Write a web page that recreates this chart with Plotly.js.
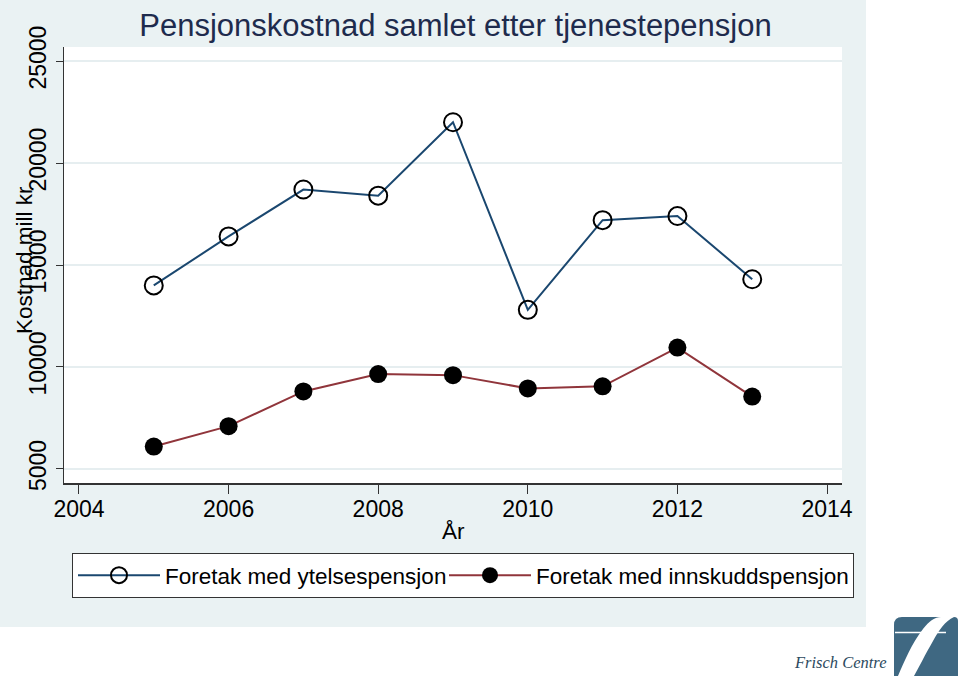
<!DOCTYPE html>
<html><head><meta charset="utf-8">
<script src="https://cdn.plot.ly/plotly-3.0.1.min.js"></script>
<style>html,body{margin:0;padding:0;background:#fff}</style>
</head><body><div id="chart" style="width:960px;height:679px"></div>
<script>
// ---- data ----
const years = [2005, 2006, 2007, 2008, 2009, 2010, 2011, 2012, 2013];
const ytelse = [14000, 16400, 18700, 18400, 22000, 12800, 17200, 17400, 14300];
const innskudd = [6100, 7100, 8800, 9650, 9600, 8950, 9050, 10950, 8550];
const xTicks = [2004, 2006, 2008, 2010, 2012, 2014];
const yTicks = [5000, 10000, 15000, 20000, 25000];
const seriesNames = ['Foretak med ytelsespensjon', 'Foretak med innskuddspensjon'];
const chartTitle = 'Pensjonskostnad samlet etter tjenestepensjon';
const xTitle = 'År';
const yTitle = 'Kostnad mill kr';
const logoText = 'Frisch Centre';

// ---- layout helpers (pixel -> paper) ----
const W = 960, H = 679;
const M = {l: 64, r: 118, t: 47, b: 196};
const PW = W - M.l - M.r, PH = H - M.t - M.b;
const px = x => (x - M.l) / PW;
const py = y => (H - M.b - y) / PH;
const pathOf = pts => pts.map(p => {
  if (p === 'Z') return 'Z';
  const cmd = p[0];
  const coords = [];
  for (let i = 1; i < p.length; i += 2) coords.push(px(p[i]) + ',' + py(p[i + 1]));
  return cmd + ' ' + coords.join(' ');
}).join(' ');

const FONT = 'Liberation Sans, Arial, Helvetica, sans-serif';
const BG = '#eaf2f3';

const traces = [
  {
    x: years, y: ytelse, name: seriesNames[0], type: 'scatter', mode: 'lines+markers',
    line: {color: '#1a476f', width: 2},
    marker: {symbol: 'circle-open', size: 18, color: '#000', line: {width: 2, color: '#000'}},
    legendwidth: 274
  },
  {
    x: years, y: innskudd, name: seriesNames[1], type: 'scatter', mode: 'lines+markers',
    line: {color: '#90353b', width: 2},
    marker: {symbol: 'circle', size: 18, color: '#000', line: {width: 0}},
    legendwidth: 312
  }
];

const shapes = [
  // white outside the graph region
  {type: 'rect', xref: 'paper', yref: 'paper', x0: px(866), x1: px(975), y0: py(700), y1: py(-20),
   fillcolor: '#ffffff', line: {width: 0}, layer: 'above'},
  {type: 'rect', xref: 'paper', yref: 'paper', x0: px(-20), x1: px(975), y0: py(700), y1: py(627),
   fillcolor: '#ffffff', line: {width: 0}, layer: 'above'},
  // logo block
  {type: 'path', xref: 'paper', yref: 'paper', layer: 'above', fillcolor: '#3f6882', line: {width: 0},
   path: pathOf([['M', 894, 676], ['L', 894, 625], ['Q', 894, 617, 902, 617], ['L', 954, 617],
                 ['Q', 958, 617, 958, 621], ['L', 958, 676], 'Z'])},
  // logo swoosh
  {type: 'path', xref: 'paper', yref: 'paper', layer: 'above', fillcolor: '#ffffff', line: {width: 0},
   path: pathOf([['M', 898, 676], ['C', 904, 662, 912, 643, 923, 629], ['C', 929, 621, 935, 617, 941, 617],
                 ['L', 954, 617], ['C', 945, 621, 939, 630, 933, 641], ['C', 925, 655, 919, 667, 914, 676], 'Z'])},
  // logo bar
  {type: 'line', xref: 'paper', yref: 'paper', layer: 'above', x0: px(895), x1: px(946), y0: py(632.5), y1: py(632.5),
   line: {color: '#ffffff', width: 1.5}}
];

const layout = {
  width: W, height: H,
  margin: M,
  paper_bgcolor: BG,
  plot_bgcolor: '#ffffff',
  font: {family: FONT, color: '#000', size: 22},
  showlegend: true,
  title: {
    text: chartTitle, font: {family: FONT, size: 31, color: '#1e2b4d'},
    xref: 'paper', x: px(455.5), xanchor: 'center',
    yref: 'container', y: 1 - 25 / H, yanchor: 'middle'
  },
  xaxis: {
    range: [2003.8, 2014.2], tickmode: 'array', tickvals: xTicks, ticktext: xTicks.map(String),
    showgrid: false, zeroline: false, showline: true, linecolor: '#333', linewidth: 1.5,
    ticks: 'outside', ticklen: 9, tickwidth: 1, tickcolor: '#333', ticklabelstandoff: -4,
    tickfont: {size: 23, color: '#000'}, fixedrange: true
  },
  yaxis: {
    range: [4312, 25688], tickmode: 'array', tickvals: yTicks, ticktext: yTicks.map(String),
    tickangle: -90, showgrid: true, gridcolor: '#e6eef0', gridwidth: 2,
    zeroline: false, showline: true, linecolor: '#333', linewidth: 1.5,
    ticks: 'outside', ticklen: 7, tickwidth: 1, tickcolor: '#333',
    tickfont: {size: 23, color: '#000'}, fixedrange: true
  },
  legend: {
    orientation: 'h', x: px(72), xanchor: 'left', y: py(553), yanchor: 'top',
    bgcolor: '#ffffff', bordercolor: '#333', borderwidth: 1,
    font: {size: 22.5, color: '#000', family: FONT},
    itemwidth: 82, entrywidthmode: 'pixels', traceorder: 'normal'
  },
  annotations: [
    {text: yTitle, xref: 'paper', yref: 'paper', x: px(24), y: py(260), xanchor: 'center', yanchor: 'middle',
     textangle: -90, showarrow: false, font: {size: 22.5, color: '#000', family: FONT}},
    {text: xTitle, xref: 'paper', yref: 'paper', x: px(453), y: py(531), xanchor: 'center', yanchor: 'middle',
     showarrow: false, font: {size: 22.5, color: '#000', family: FONT}},
    {text: '<i>' + logoText + '</i>', xref: 'paper', yref: 'paper', x: px(889), y: py(662), xanchor: 'right', yanchor: 'middle',
     showarrow: false, font: {size: 16.5, color: '#2c4a60', family: 'Liberation Serif, Times New Roman, serif'}}
  ],
  shapes: shapes
};

Plotly.newPlot('chart', traces, layout, {displayModeBar: false, staticPlot: true});
</script></body></html>
